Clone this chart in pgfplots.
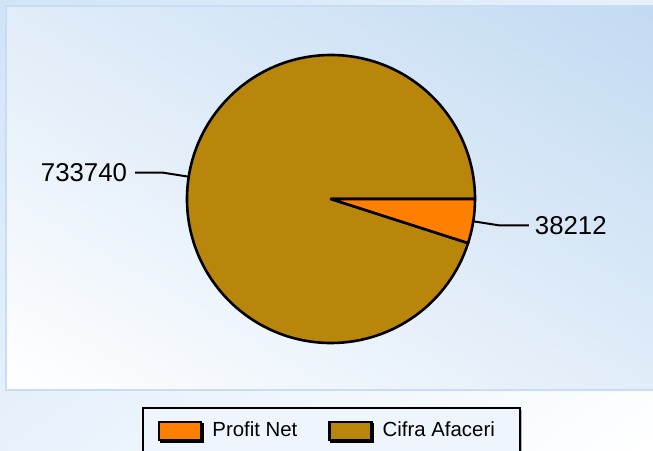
\documentclass[border=0pt]{standalone}
\usepackage{fontspec}
\setmainfont{Liberation Sans}
\usepackage{pgfplots}
\usepackage{pgfplotstable}
\pgfplotsset{compat=1.18}
\usetikzlibrary{shadows}
\definecolor{profit}{RGB}{255,128,0}
\definecolor{cifra}{RGB}{184,134,11}
\definecolor{outerbg}{RGB}{208,228,248}
\definecolor{plotbg}{RGB}{194,218,242}
\definecolor{plotborder}{RGB}{200,221,243}
\definecolor{legfill}{RGB}{238,245,253}

\pgfplotstableread{
name value
ProfitNet 38212
CifraAfaceri 733740
}\piedata
\pgfplotstablegetelem{0}{value}\of\piedata \edef\vA{\pgfplotsretval}
\pgfplotstablegetelem{1}{value}\of\piedata \edef\vB{\pgfplotsretval}
\edef\angA{\fpeval{360*\vA/(\vA+\vB)}}
\edef\midA{\fpeval{-\angA/2}}
\edef\endB{\fpeval{360-\angA}}
\edef\midB{\fpeval{(360-\angA)/2}}

\begin{document}
\begin{tikzpicture}
\begin{axis}[name=ax, x=0.5pt, y=0.5pt, y dir=reverse,
  xmin=0, xmax=653, ymin=0, ymax=450, hide axis, clip=false,
  legend columns=2,
  legend style={at={(0.5077,0.0956)}, anchor=north, draw=black, line width=1.1pt,
    fill=legfill, inner xsep=7.5pt, inner ysep=5pt,
    nodes={inner xsep=5pt},
    font=\fontsize{10.2}{12}\selectfont,
    /tikz/every even column/.append style={column sep=10.5pt},
    drop shadow={shadow xshift=0.9pt, shadow yshift=-0.9pt, fill=gray!60, opacity=1}},
  legend cell align=left]
% outer background: light blue top-left to white bottom-right
\path (axis cs:326.5,225) coordinate (oc);
\begin{scope}
  \clip (axis cs:0,0) rectangle (axis cs:653,450);
  \begin{scope}[transform canvas={rotate around={34.6:(oc)}}]
    \shade[top color=outerbg, bottom color=white] (oc) ++(-400pt,-185.3pt) rectangle ++(800pt,370.6pt);
  \end{scope}
\end{scope}
% plot area: white bottom-left to blue top-right
\path (axis cs:334,198) coordinate (pc);
\begin{scope}
  \clip (axis cs:6,6) rectangle (axis cs:662,390);
  \begin{scope}[transform canvas={rotate around={-30.34:(pc)}}]
    \shade[top color=plotbg, bottom color=white] (pc) ++(-400pt,-165.7pt) rectangle ++(800pt,331.4pt);
  \end{scope}
\end{scope}
\draw[plotborder, line width=1pt] (axis cs:6,6) rectangle (axis cs:662,390);
\path (axis cs:331,199) coordinate (ctr);
\filldraw[fill=cifra, draw=black, line width=1.3pt, line join=round]
  (ctr) -- ++(0:72pt) arc[start angle=0, end angle=\endB, radius=72pt] -- cycle;
\filldraw[fill=profit, draw=black, line width=1.3pt, line join=round]
  (ctr) -- ++(0:72pt) arc[start angle=0, end angle=-\angA, radius=72pt] -- cycle;
\draw[line width=1pt] ([shift={(\midA:72pt)}]ctr) -- ([shift={(\midA:85pt)}]ctr) -- ++(15pt,0)
  node[anchor=west, inner sep=0pt, xshift=2.5pt, font=\fontsize{12.9}{15}\selectfont] {\vA};
\draw[line width=1pt] ([shift={(\midB:72pt)}]ctr) -- ([shift={(\midB:85pt)}]ctr) -- ++(-14pt,0)
  node[anchor=east, inner sep=0pt, xshift=-3.5pt, font=\fontsize{12.9}{15}\selectfont] {\vB};
\addlegendimage{legend image code/.code={\draw[fill=profit, draw=black, line width=1.1pt] (0pt,-4.5pt) rectangle (21pt,4.5pt);}}
\addlegendentry{Profit Net}
\addlegendimage{legend image code/.code={\draw[fill=cifra, draw=black, line width=1.1pt] (0pt,-4.5pt) rectangle (21pt,4.5pt);}}
\addlegendentry{Cifra Afaceri\hspace{4pt}}
\end{axis}
\pgfresetboundingbox
\path[use as bounding box] (ax.south west) rectangle (ax.north east);
\end{tikzpicture}
\end{document}
